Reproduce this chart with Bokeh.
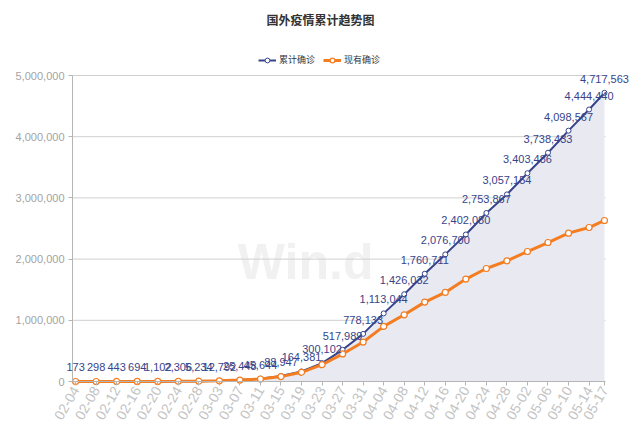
import pandas as pd
from bokeh.plotting import figure
from bokeh.models import (ColumnDataSource, FixedTicker, NumeralTickFormatter, LinearAxis,
                          Range1d, Legend, LegendItem, Label)
from bokeh.embed import file_html
from bokeh.resources import INLINE

# ---------------- data ----------------
title_text = "国外疫情累计趋势图"
series_names = ["累计确诊", "现有确诊"]
dates = ["02-04", "02-08", "02-12", "02-16", "02-20", "02-24", "02-28", "03-03", "03-07",
         "03-11", "03-15", "03-19", "03-23", "03-27", "03-31", "04-04", "04-08", "04-12",
         "04-16", "04-20", "04-24", "04-28", "05-02", "05-06", "05-10", "05-14", "05-17"]
cumulative = [173, 298, 443, 694, 1102, 2306, 5234, 12792, 25448,
              45644, 88947, 164381, 300102, 517989, 778133, 1113044, 1426032, 1760711,
              2076700, 2402080, 2753867, 3057154, 3403486, 3738433, 4098567, 4444440, 4717563]
existing = [170, 290, 420, 640, 980, 2100, 4800, 11500, 23000,
            41000, 80000, 150000, 275000, 450000, 645000, 900000, 1090000, 1297000,
            1455000, 1673000, 1846000, 1972000, 2124000, 2271000, 2424000, 2516000, 2631000]
y_ticks = [0, 1000000, 2000000, 3000000, 4000000, 5000000]

# ---------------- styling ----------------
NAVY = "#37448a"
ORANGE = "#f47d22"
GREY_TXT = "#a3a3a3"
AXIS_C = "#b5b5b5"
FONT = "Liberation Sans"
CJK = "Noto Sans CJK SC"

d = pd.to_datetime(["2020-" + s for s in dates])
days = [int((x - d[0]).days) for x in d]

src = ColumnDataSource(dict(x=days, cum=cumulative, cur=existing))

# layout: frame spans (64..629, 32..386); data box 72..605 / 75..381
X0 = days[0] - 0.6
X1 = days[-1] + 0.2
PX_PER_DAY = 533.0 / (X1 - X0)
x_start = X0 - 8.0 / PX_PER_DAY
x_end = x_start + 565.0 / PX_PER_DAY
UNIT = y_ticks[-1] / 306.0
y_start = -5 * UNIT
y_end = y_start + 354 * UNIT

p = figure(width=629, height=448, output_backend="svg", toolbar_location=None,
           x_range=Range1d(x_start, x_end), y_range=Range1d(y_start, y_end),
           min_border_left=64, min_border_right=0, min_border_top=32, min_border_bottom=62)

p.title.text = title_text
p.title.align = "left"
p.title.offset = 202
p.title.text_font = CJK
p.title.text_font_size = "12px"
p.title.text_color = "#333333"
p.title.text_font_style = "bold"

p.outline_line_color = None
p.background_fill_color = "white"
p.border_fill_color = "white"

# watermark
wm = Label(x=44.8, y=1.95e6, text="Win.d", text_align="center", text_baseline="alphabetic",
           text_font=FONT, text_font_size="50px", text_font_style="bold",
           text_color="#f1f1f1", level="underlay")
p.add_layout(wm)

# horizontal grid lines (data box only)
p.segment(x0=[X0] * (len(y_ticks) - 1), x1=[X1] * (len(y_ticks) - 1),
          y0=y_ticks[1:], y1=y_ticks[1:], line_color="#cfcfcf", line_width=1)

# area under cumulative
p.varea(x="x", y1=0, y2="cum", source=src, fill_color="#e8e9f1")

l1 = p.line("x", "cum", source=src, line_color=NAVY, line_width=2)
s1 = p.scatter("x", "cum", source=src, size=5, marker="circle",
               fill_color="white", line_color=NAVY, line_width=1)
l2 = p.line("x", "cur", source=src, line_color=ORANGE, line_width=3)
s2 = p.scatter("x", "cur", source=src, size=6, marker="circle",
               fill_color="white", line_color=ORANGE, line_width=1.2)

# value labels above the cumulative series
for xv, yv in zip(days, cumulative):
    p.add_layout(Label(x=xv, y=yv, text="{:,}".format(yv), text_align="center",
                       text_baseline="alphabetic", y_offset=14, text_font=FONT,
                       text_font_size="11px", text_color=NAVY))

legend = Legend(items=[LegendItem(label=series_names[0], renderers=[l1, s1]),
                       LegendItem(label=series_names[1], renderers=[l2, s2])],
                orientation="horizontal", location=(194, 320))
legend.label_text_font = CJK
legend.label_text_font_size = "9px"
legend.label_text_color = "#333333"
legend.border_line_color = None
legend.background_fill_alpha = 0
legend.glyph_width = 18
legend.glyph_height = 12
legend.label_standoff = 3
legend.spacing = 8
legend.padding = 2
legend.margin = 0
p.add_layout(legend)

p.xgrid.grid_line_color = None
p.ygrid.grid_line_color = None

# ---- y axis: labels in the side panel, line + ticks at the data box edge
p.yaxis.ticker = FixedTicker(ticks=y_ticks)
p.yaxis.formatter = NumeralTickFormatter(format="0,0")
p.yaxis.axis_line_color = None
p.yaxis.major_tick_line_color = None
p.yaxis.minor_tick_line_color = None
p.yaxis.major_tick_out = 0
p.yaxis.major_tick_in = 0
p.yaxis.major_label_text_font = FONT
p.yaxis.major_label_text_font_size = "11px"
p.yaxis.major_label_text_color = GREY_TXT
p.yaxis.major_label_standoff = 0

yline = LinearAxis(fixed_location=X0, bounds=(y_ticks[0], y_ticks[-1]),
                   ticker=FixedTicker(ticks=y_ticks), axis_line_color=AXIS_C,
                   major_tick_line_color=AXIS_C, major_tick_out=4, major_tick_in=0,
                   minor_tick_line_color=None, major_label_text_alpha=0,
                   major_label_text_font_size="1px", major_label_standoff=0)
p.add_layout(yline, "left")

# ---- x axis: labels in the side panel, line + ticks at y = 0
p.xaxis.ticker = FixedTicker(ticks=days)
p.xaxis.major_label_overrides = {k: v for k, v in zip(days, dates)}
p.xaxis.axis_line_color = None
p.xaxis.major_tick_line_color = None
p.xaxis.minor_tick_line_color = None
p.xaxis.major_tick_out = 0
p.xaxis.major_tick_in = 0
p.xaxis.major_label_orientation = 1.05
p.xaxis.major_label_text_font = FONT
p.xaxis.major_label_text_font_size = "14px"
p.xaxis.major_label_text_color = "#c3c3c3"
p.xaxis.major_label_standoff = 1

xline = LinearAxis(fixed_location=0, bounds=(X0, X1), ticker=FixedTicker(ticks=days),
                   axis_line_color=AXIS_C, major_tick_line_color=AXIS_C,
                   major_tick_out=4, major_tick_in=0, minor_tick_line_color=None,
                   major_label_text_alpha=0, major_label_text_font_size="1px",
                   major_label_standoff=0)
p.add_layout(xline, "below")

open("out.html", "w").write(file_html(p, INLINE))
